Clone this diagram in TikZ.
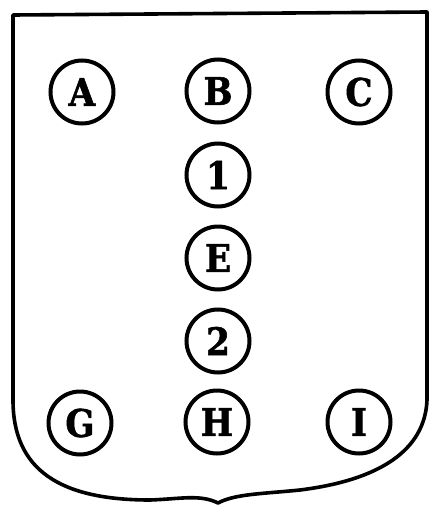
\documentclass[tikz,border=0pt]{standalone}
\usepackage{fontspec}
\setmainfont{DejaVu Serif Condensed}[BoldFeatures={FakeBold=1.5}]
\begin{document}
\begin{tikzpicture}[x=1pt,y=-1pt,
  charge/.style={circle,draw,line width=4pt,minimum size=63pt,inner sep=0pt,
    font=\fontsize{38}{38}\selectfont\bfseries},
  shieldline/.style={line width=3.6pt,line join=round}]
\useasboundingbox (0,0) rectangle (430,506);
\draw[shieldline] (13,15) -- (427,12) -- (427,400)
  .. controls (425,450) and (380,480) .. (300,490)
  .. controls (260,494) and (235,494) .. (218,503)
  .. controls (200,494) and (180,499) .. (150,500)
  .. controls (60,500) and (13,470) .. (13,400) -- cycle;
\node[charge] (A) at (82,92) {A};
\node[charge] (B) at (218,91) {B};
\node[charge] (C) at (359,92) {C};
\node[charge] (n1) at (218,175) {1};
\node[charge] (E) at (218,258) {E};
\node[charge] (n2) at (218,341) {2};
\node[charge] (G) at (80,423) {G};
\node[charge] (H) at (217,422) {H};
\node[charge] (I) at (359,422) {I};
\end{tikzpicture}
\end{document}
